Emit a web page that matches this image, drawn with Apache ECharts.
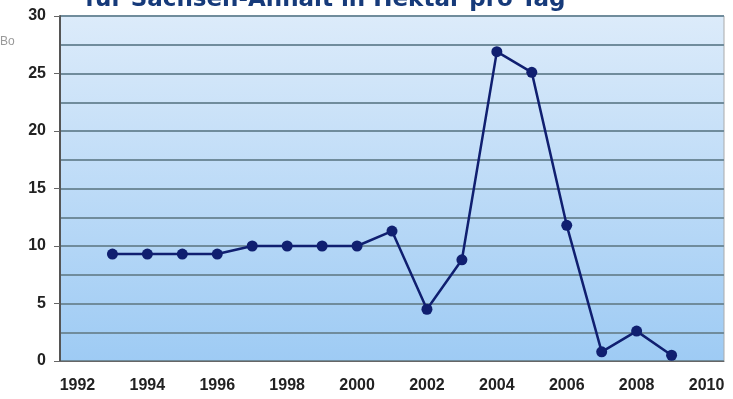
<!DOCTYPE html>
<html>
<head>
<meta charset="utf-8">
<script src="https://cdn.jsdelivr.net/npm/echarts@6/dist/echarts.min.js"></script>
<style>
  html, body { margin: 0; padding: 0; background: #fff; }
  #chart { width: 733px; height: 399px; }
</style>
</head>
<body>
<div id="chart"></div>
<script>
// Jahre (Kategorien) und Werte in Hektar pro Tag
const years = ['1992', '1993', '1994', '1995', '1996', '1997', '1998', '1999', '2000', '2001',
  '2002', '2003', '2004', '2005', '2006', '2007', '2008', '2009', '2010'];
const values = [null, 9.3, 9.3, 9.3, 9.3, 10, 10, 10, 10, 11.3,
  4.5, 8.8, 26.9, 25.1, 11.8, 0.8, 2.6, 0.5, null];
const titleText = 'für Sachsen-Anhalt in Hektar pro Tag';

const chart = echarts.init(document.getElementById('chart'));

const option = {
  animation: false,
  backgroundColor: '#fff',
  title: {
    text: titleText,
    left: 80,
    top: -16,
    textStyle: {
      fontFamily: 'DejaVu Sans',
      fontWeight: 'bold',
      fontSize: 23,
      color: '#163a7a',
    },
  },
  graphic: [
    {
      type: 'text',
      left: 0,
      top: 36,
      style: { text: 'Bo', fontSize: 12, fill: '#999', fontFamily: 'Liberation Sans' },
    },
  ],
  grid: {
    left: 60,
    right: 9,
    top: 16,
    bottom: 38,
    show: true,
    borderColor: '#aaa',
    borderWidth: 1,
    backgroundColor: new echarts.graphic.LinearGradient(0, 0, 0, 1, [
      { offset: 0, color: '#dcebfa' },
      { offset: 1, color: '#9ecbf4' },
    ]),
  },
  xAxis: {
    type: 'category',
    data: years,
    boundaryGap: true,
    axisLine: { lineStyle: { color: '#666', width: 1 } },
    axisTick: { interval: 0, length: 5, lineStyle: { color: '#666' } },
    axisLabel: {
      interval: 1,
      margin: 17,
      color: '#222',
      fontFamily: 'Liberation Sans',
      fontWeight: 'bold',
      fontSize: 16,
    },
  },
  yAxis: {
    type: 'value',
    min: 0,
    max: 30,
    interval: 5,
    axisLine: { show: true, lineStyle: { color: '#555', width: 2 } },
    axisTick: { show: true, length: 6, lineStyle: { color: '#666' } },
    axisLabel: {
      margin: 14,
      color: '#222',
      fontFamily: 'Liberation Sans',
      fontWeight: 'bold',
      fontSize: 16,
    },
    splitLine: { lineStyle: { color: '#708c9c', width: 2 } },
    minorTick: { show: false, splitNumber: 2 },
    minorSplitLine: { show: true, lineStyle: { color: '#708c9c', width: 2 } },
  },
  series: [
    {
      type: 'line',
      data: values,
      symbol: 'circle',
      symbolSize: 11,
      lineStyle: { color: '#101f70', width: 2.5 },
      itemStyle: { color: '#101f70' },
    },
  ],
};

chart.setOption(option);
</script>
</body>
</html>
